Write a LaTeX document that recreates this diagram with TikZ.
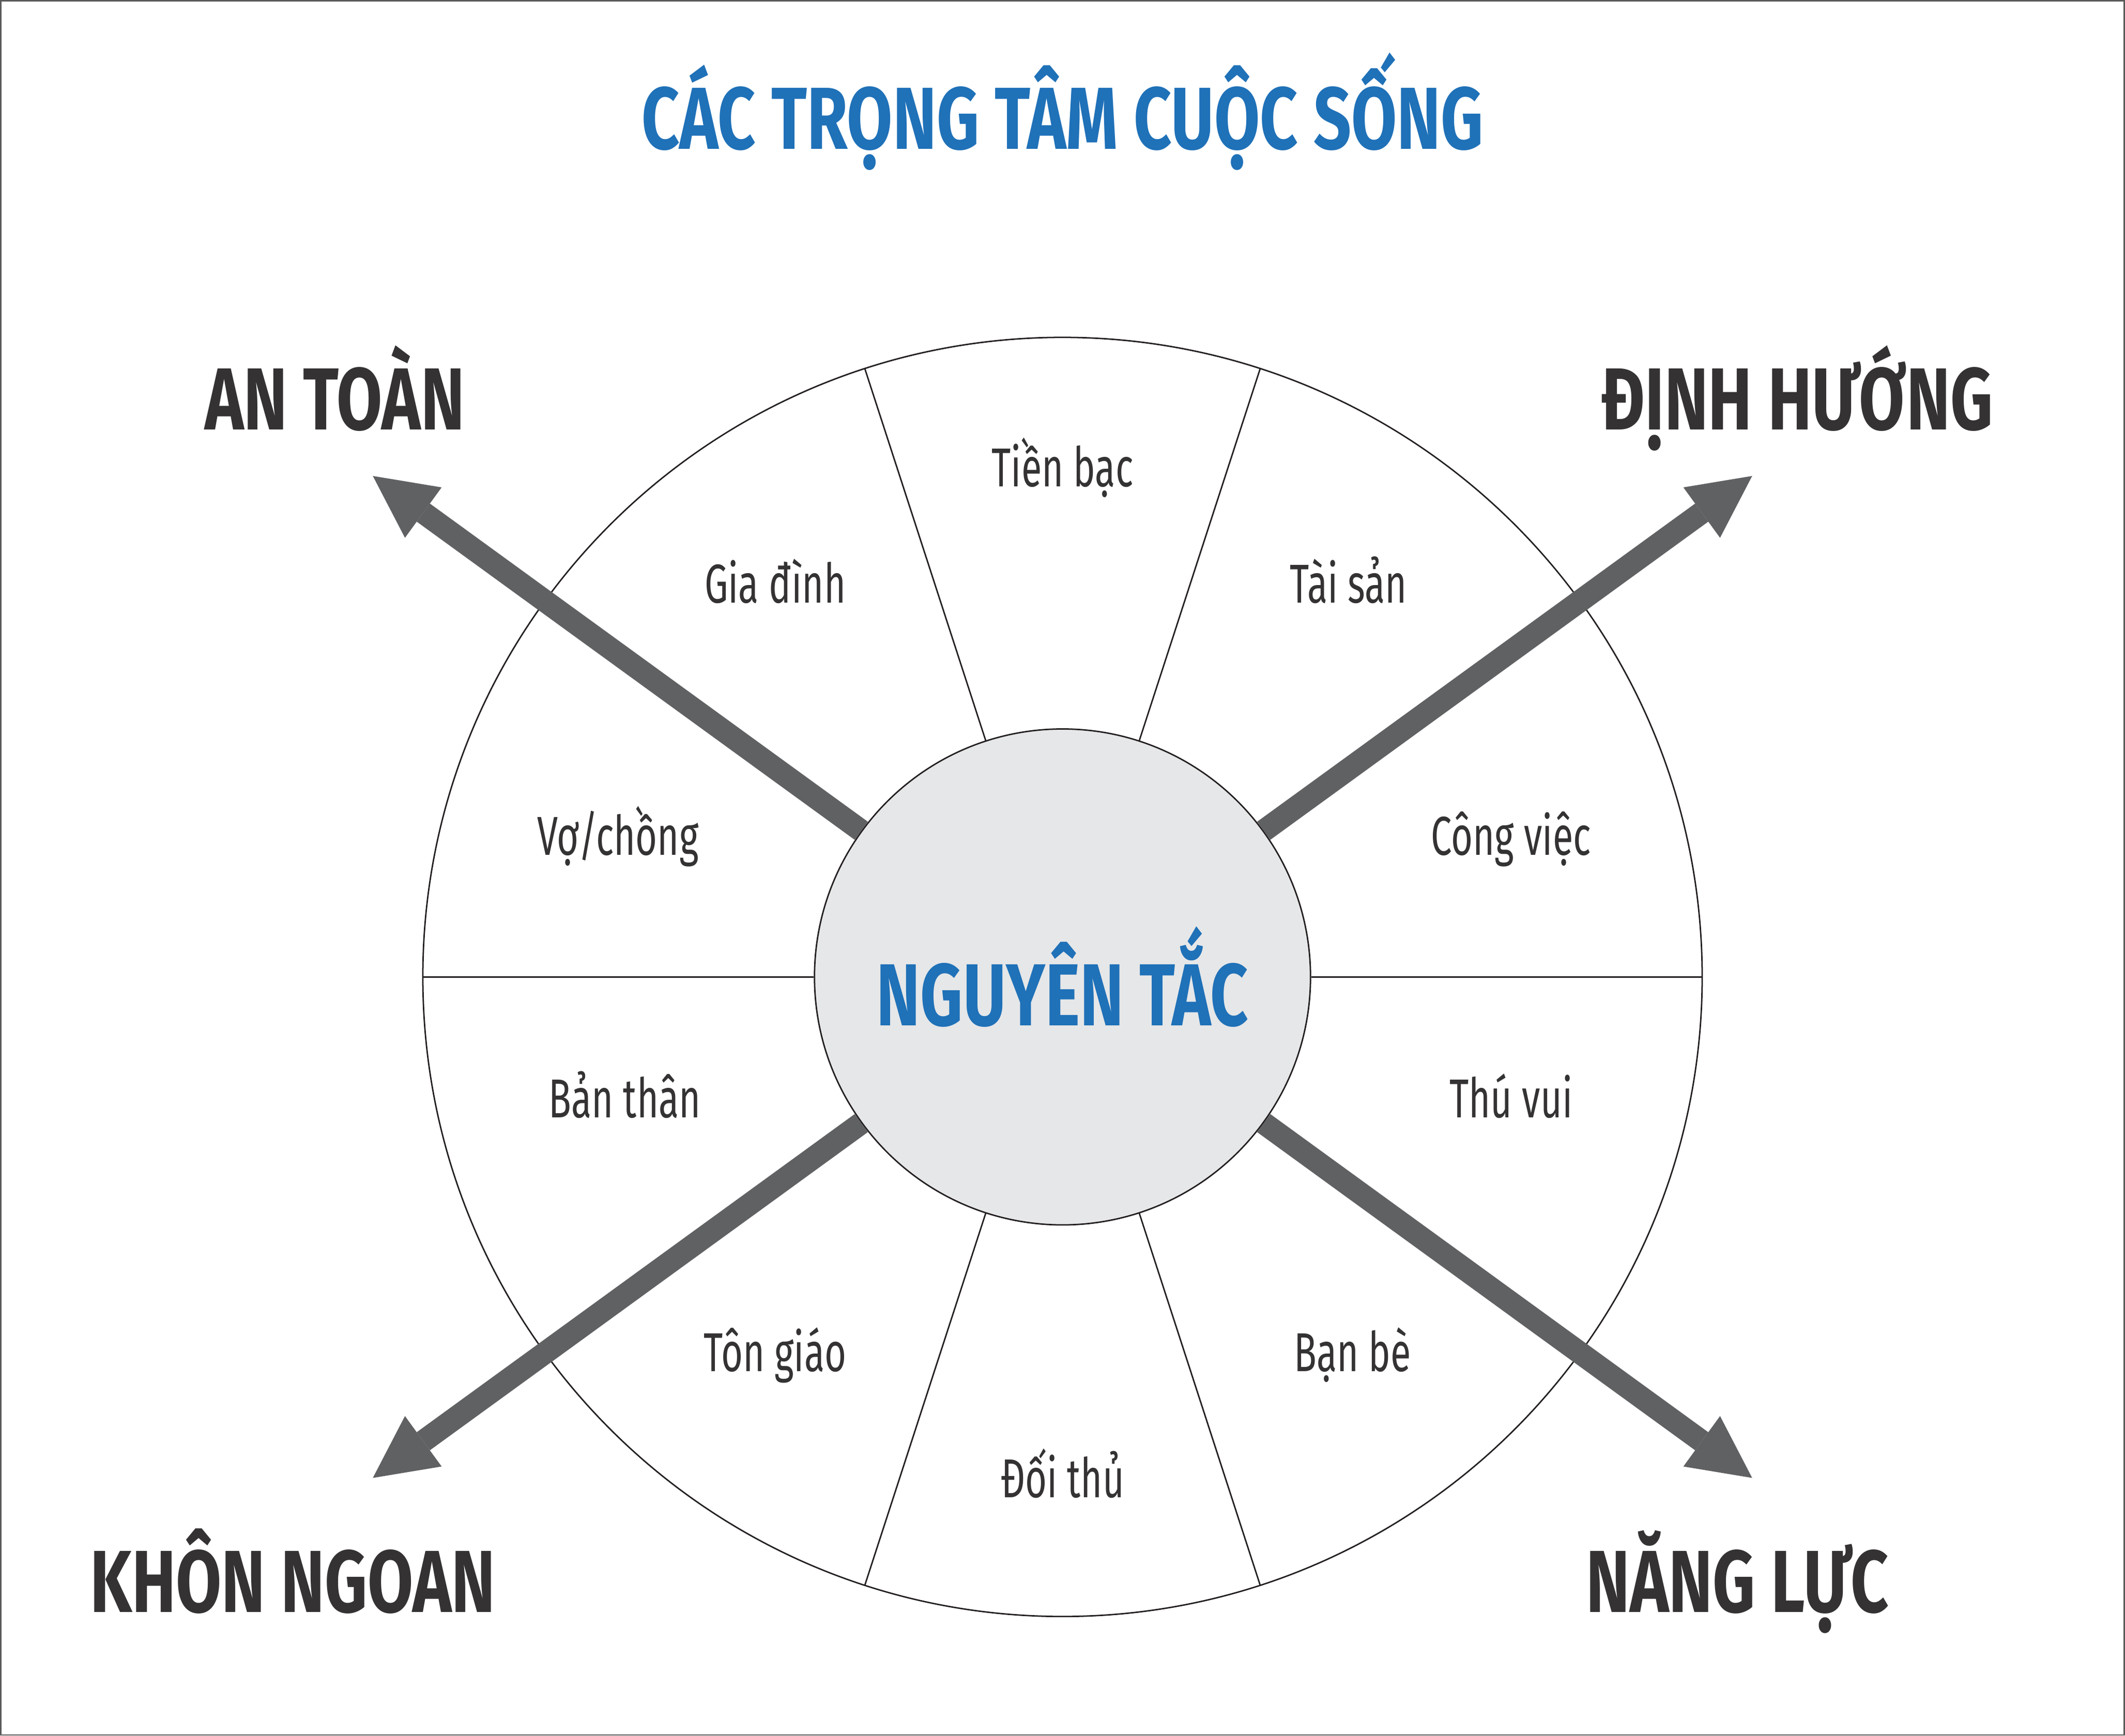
\documentclass[tikz,border=0pt]{standalone}
\usepackage{fontspec}
\usepackage{xcolor}
\usetikzlibrary{arrows.meta}
\newfontfamily\condfont[FakeStretch=0.68]{Fira Sans}
\newfontfamily\headfont[FakeStretch=0.75]{Fira Sans}
\definecolor{titleblue}{RGB}{31,113,184}
\definecolor{textdark}{RGB}{52,50,51}
\definecolor{arrowgray}{RGB}{96,97,99}
\definecolor{hubfill}{RGB}{230,231,232}
\definecolor{linedark}{RGB}{35,31,32}
\definecolor{framegray}{RGB}{90,90,90}

\begin{document}
\begin{tikzpicture}[x=0.1mm, y=0.1mm,
		heading/.style = {font=\headfont\bfseries\fontsize{18.5}{20}\selectfont, inner sep=0pt},
		sector/.style = {font=\condfont\fontsize{11.5}{13}\selectfont, text=textdark, inner sep=0pt, anchor=base},
		thinline/.style = {draw=linedark, line width=0.3pt},
		bigarrow/.style = {draw=arrowgray, line width=1.65mm, -{Triangle[length=4.6mm, width=4.6mm, line width=0pt]}}]
		\useasboundingbox (0,0) rectangle (1568,1281);
		\draw[framegray, line width=0.3pt] (0.6,0.6) rectangle (1567.4,1280.4);

		% wheel
		\coordinate (ctr) at (784,560);
		\draw[thinline] (ctr) circle (472);
		\node[heading, thinline, circle, fill=hubfill, text=titleblue, minimum size=36.6mm] (hub) at (ctr) {NGUYÊN TẮC};
		\foreach \a in {0,36,...,324}
			\draw[thinline] (hub.\a) -- ([shift={(ctr)}]\a:472);

		% arrows
		\coordinate (tipNE) at ([shift={(ctr)}]36:629);
		\coordinate (tipNW) at ([shift={(ctr)}]144:629);
		\coordinate (tipSW) at ([shift={(ctr)}]216:629);
		\coordinate (tipSE) at ([shift={(ctr)}]324:629);
		\draw[bigarrow] (hub.36) -- (tipNE);
		\draw[bigarrow] (hub.144) -- (tipNW);
		\draw[bigarrow] (hub.216) -- (tipSW);
		\draw[bigarrow] (hub.324) -- (tipSE);

		% headings
		\node[heading, text=titleblue, anchor=base] (title) at (784,1171) {CÁC TRỌNG TÂM CUỘC SỐNG};
		\node[heading, text=textdark, anchor=base] (antoan) at (247,964) {AN TOÀN};
		\node[heading, text=textdark, anchor=base] (dinhhuong) at (1326,964) {ĐỊNH HƯỚNG};
		\node[heading, text=textdark, anchor=base] (khonngoan) at (216,91) {KHÔN NGOAN};
		\node[heading, text=textdark, anchor=base] (nangluc) at (1282,91) {NĂNG LỰC};

		% sectors
		\node[sector] (tienbac) at (784,922) {Tiền bạc};
		\node[sector] (taisan) at (995,836) {Tài sản};
		\node[sector] (congviec) at (1115,650) {Công việc};
		\node[sector] (thuvui) at (1115,456) {Thú vui};
		\node[sector] (banbe) at (998,269) {Bạn bè};
		\node[sector] (doithu) at (784,176) {Đối thủ};
		\node[sector] (tongiao) at (572,269) {Tôn giáo};
		\node[sector] (banthan) at (461,456) {Bản thân};
		\node[sector] (vochong) at (456,650) {Vợ/chồng};
		\node[sector] (giadinh) at (572,836) {Gia đình};
\end{tikzpicture}
\end{document}
